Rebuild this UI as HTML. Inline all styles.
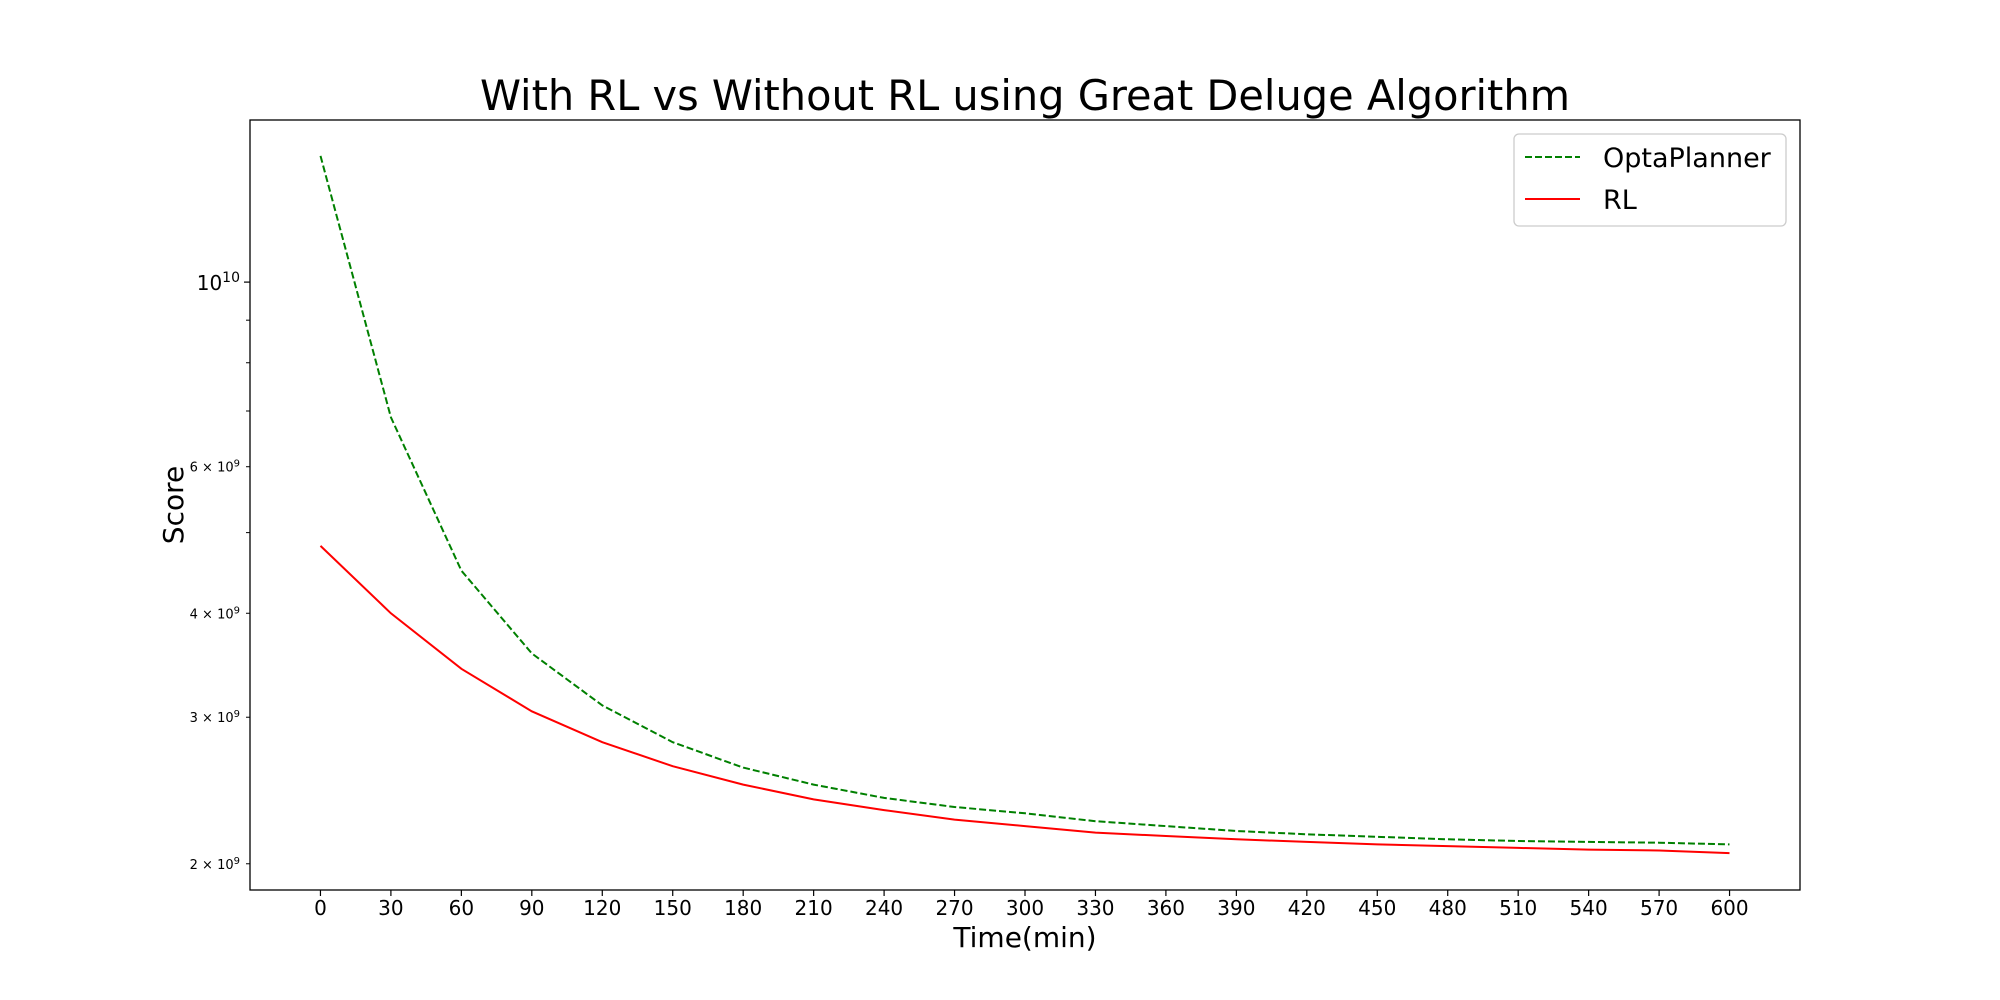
<!DOCTYPE html>
<html><head><meta charset="utf-8"><style>
html,body{margin:0;padding:0;background:#fff;}
svg{display:block;font-family:"DejaVu Sans","Liberation Sans",sans-serif;}
</style></head><body>
<svg id="chart" width="2000" height="1000" viewBox="0 0 2000 1000" xmlns="http://www.w3.org/2000/svg">
<rect width="2000" height="1000" fill="#fff"/>
<text x="1025" y="110" font-size="41.5" text-anchor="middle">With RL vs Without RL using Great Deluge Algorithm</text>
<g id="plot"></g>
<text x="1025" y="947" font-size="28" text-anchor="middle">Time(min)</text>
<text transform="translate(183,505) rotate(-90)" font-size="28" text-anchor="middle">Score</text>
<rect x="250" y="120" width="1550" height="770" fill="none" stroke="#000" stroke-width="1.3"/>
<g>
<rect x="1514" y="134" width="272" height="92" rx="5" fill="#fff" stroke="#ccc" stroke-width="1.3"/>
<line x1="1525" y1="157" x2="1580" y2="157" stroke="green" stroke-width="2" stroke-dasharray="7,3"/>
<text x="1603" y="167" font-size="27">OptaPlanner</text>
<line x1="1525" y1="199" x2="1580" y2="199" stroke="red" stroke-width="2"/>
<text x="1603" y="209" font-size="27">RL</text>
</g>
</svg>
<script>
const times = [0,30,60,90,120,150,180,210,240,270,300,330,360,390,420,450,480,510,540,570,600];
const optaScores = [1.418e10,6.88e9,4.50e9,3.58e9,3.10e9,2.80e9,2.61e9,2.49e9,2.40e9,2.34e9,2.30e9,2.25e9,2.22e9,2.19e9,2.17e9,2.155e9,2.14e9,2.13e9,2.125e9,2.12e9,2.11e9];
const rlScores = [4.82e9,4.0e9,3.43e9,3.05e9,2.80e9,2.62e9,2.49e9,2.39e9,2.32e9,2.26e9,2.22e9,2.18e9,2.16e9,2.14e9,2.125e9,2.11e9,2.10e9,2.09e9,2.08e9,2.075e9,2.06e9];
const xTicks = [0,30,60,90,120,150,180,210,240,270,300,330,360,390,420,450,480,510,540,570,600];
const yMajorTicks = [1e10];
const yLabelledMinor = [2e9,3e9,4e9,6e9];
const yLabelledMinorText = ["2","3","4","6"];
const yMinorTicks = [2e9,3e9,4e9,5e9,6e9,7e9,8e9,9e9];

const NS="http://www.w3.org/2000/svg";
const L=250,R=1800,T=120,B=890;
const xMin=-30,xMax=630;
const yLogMin=Math.log10(1.86e9), yLogMax=Math.log10(1.566e10);
function xs(v){return L+(v-xMin)/(xMax-xMin)*(R-L);}
function ys(v){return B-(Math.log10(v)-yLogMin)/(yLogMax-yLogMin)*(B-T);}
const g=document.getElementById('plot');
function mk(tag,attrs){const e=document.createElementNS(NS,tag);for(const k in attrs)e.setAttribute(k,attrs[k]);g.appendChild(e);return e;}

xTicks.forEach(t=>{
  const ln=mk('line',{x1:xs(t),x2:xs(t),y1:B,y2:B+6,stroke:'#000','stroke-width':1.2});
  
  
  const tx=mk('text',{x:xs(t),y:B+25,'font-size':20,'text-anchor':'middle'});
  tx.textContent=t;
  
  
});
yMinorTicks.forEach(v=>{
  const ln=mk('line',{x1:L-4,x2:L,y1:ys(v),y2:ys(v),stroke:'#000','stroke-width':1});
  
  
});
yMajorTicks.forEach(v=>{
  const ln=mk('line',{x1:L-6,x2:L,y1:ys(v),y2:ys(v),stroke:'#000','stroke-width':1.2});
  
  
  const tx=mk('text',{x:L-10,y:ys(v)+8,'font-size':20,'text-anchor':'end'});
  tx.innerHTML='10<tspan dy="-8" font-size="14">10</tspan>';
  
  
});
yLabelledMinor.forEach((v,i)=>{
  const tx=mk('text',{x:L-10,y:ys(v)+5,'font-size':13,'text-anchor':'end'});
  tx.innerHTML=yLabelledMinorText[i]+' × 10<tspan dy="-5" font-size="10">9</tspan>';
  
  
});
function path(arr){return arr.map((v,i)=>(i?'L':'M')+xs(times[i]).toFixed(1)+','+ys(v).toFixed(1)).join(' ');}
const po=mk('path',{d:path(optaScores),fill:'none',stroke:'green','stroke-width':2,'stroke-dasharray':'7,3'});


const pr=mk('path',{d:path(rlScores),fill:'none',stroke:'red','stroke-width':2});


</script>
</body></html>
